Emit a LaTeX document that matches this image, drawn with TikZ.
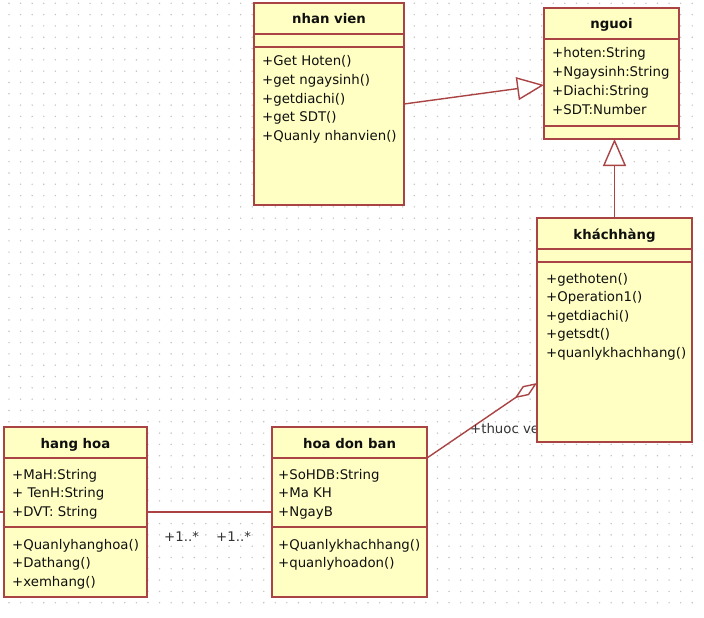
\documentclass[tikz,border=0pt]{standalone}
\usepackage{fontspec}
\setmainfont{DejaVu Sans}
\usetikzlibrary{arrows.meta,calc}
\definecolor{umlred}{RGB}{170,68,68}
\definecolor{umlfill}{RGB}{255,255,196}
\definecolor{umltext}{RGB}{15,15,15}
\definecolor{griddot}{RGB}{195,195,195}
\newcommand\umlmem{\fontsize{13.3}{16}\selectfont}
\newcommand\umltitle{\fontsize{13.3}{16}\selectfont\bfseries}
\tikzset{
  cls/.style={draw=umlred, fill=umlfill, line width=1.8pt, rectangle, anchor=north west, inner sep=0pt, outer sep=0pt},
  ttl/.style={font=\umltitle, text=umltext, anchor=base, inner sep=0pt},
  mem/.style={font=\umlmem, text=umltext, anchor=base west, inner sep=0pt},
  lbl/.style={font=\umlmem, text=umltext!85, anchor=base west, inner sep=0pt},
  divider/.style={draw=umlred, line width=1.8pt},
  conn/.style={draw=umlred, line width=1.4pt},
  gentip/.style={-{Triangle[fill=white, length=27pt, width=23pt]}},
  aggtip/.style={-{Diamond[fill=white, length=27pt, width=11pt]}}
}
\begin{document}
\begin{tikzpicture}[x=1pt,y=-1pt]
\useasboundingbox (0,0) rectangle (704,618);
\fill[white] (0,0) rectangle (704,618);
% dotted grid
\foreach \i in {0,...,59}
  \foreach \j in {0,...,53}
    \fill[griddot] ({9+11.58*\i},{3.3+11.31*\j}) circle (0.8pt);

% class boxes (placed first so connectors can refer to them)
\node[cls, minimum width=150pt, minimum height=202pt] (nv) at (254,3) {};
\node[cls, minimum width=135pt, minimum height=131pt] (ng) at (544,8) {};
\node[cls, minimum width=155pt, minimum height=224pt] (kh) at (537,218) {};
\node[cls, minimum width=143pt, minimum height=170pt] (hh) at (4,427) {};
\node[cls, minimum width=155pt, minimum height=170pt] (hd) at (272,427) {};

% connectors
\coordinate (leftend) at (0,512);
\draw[conn] (hh.west) -- (leftend);
\draw[conn] (hh.east) -- (hd.west);
\draw[conn, gentip] (nv.east) -- ($(ng.west)+(0,11.5)$);
\draw[conn, gentip] (kh.north) -- (kh.north |- ng.south);
\draw[conn, aggtip] ($(hd.north east)+(0,31)$) -- ($(kh.west)+(0,53)$);

% labels
\node[lbl] (l1) at (164,541) {+1..*};
\node[lbl] (l2) at (216,541) {+1..*};
\node[lbl] (l3) at (470,433) {+thuoc ve};

% redraw boxes on top of connectors
\node[cls, minimum width=150pt, minimum height=202pt] (nvb) at (254,3) {};
\node[cls, minimum width=135pt, minimum height=131pt] (ngb) at (544,8) {};
\node[cls, minimum width=155pt, minimum height=224pt] (khb) at (537,218) {};
\node[cls, minimum width=143pt, minimum height=170pt] (hhb) at (4,427) {};
\node[cls, minimum width=155pt, minimum height=170pt] (hdb) at (272,427) {};

% dividers
\draw[divider] (254,34) -- (404,34);
\draw[divider] (254,47) -- (404,47);
\draw[divider] (544,39) -- (679,39);
\draw[divider] (544,126) -- (679,126);
\draw[divider] (537,249) -- (692,249);
\draw[divider] (537,262) -- (692,262);
\draw[divider] (4,458) -- (147,458);
\draw[divider] (4,527) -- (147,527);
\draw[divider] (272,458) -- (427,458);
\draw[divider] (272,527) -- (427,527);

% titles
\node[ttl] (nv-t) at (329,24) {nhan vien};
\node[ttl] (ng-t) at (611.5,29) {nguoi};
\node[ttl] (kh-t) at (614.5,239) {kháchhàng};
\node[ttl] (hh-t) at (75.5,448.5) {hang hoa};
\node[ttl] (hd-t) at (349.5,448.5) {hoa don ban};

% members
\foreach [count=\k] \t/\y in {+Get Hoten()/66, +get ngaysinh()/84.5, +getdiachi()/103, +get SDT()/121.5, +Quanly nhanvien()/140}
  \node[mem] (nv-m\k) at (262,\y) {\t};
\foreach [count=\k] \t/\y in {+hoten:String/58, +Ngaysinh:String/76.7, +Diachi:String/95.4, +SDT:Number/114.1}
  \node[mem] (ng-a\k) at (552,\y) {\t};
\foreach [count=\k] \t/\y in {+gethoten()/283, +Operation1()/301.5, +getdiachi()/320, +getsdt()/338.5, +quanlykhachhang()/357}
  \node[mem] (kh-m\k) at (546,\y) {\t};
\foreach [count=\k] \t/\y in {+MaH:String/479, + TenH:String/497.5, +DVT: String/516}
  \node[mem] (hh-a\k) at (12,\y) {\t};
\foreach [count=\k] \t/\y in {+Quanlyhanghoa()/549, +Dathang()/567.5, +xemhang()/586}
  \node[mem] (hh-m\k) at (12,\y) {\t};
\foreach [count=\k] \t/\y in {+SoHDB:String/479, +Ma KH/497.5, +NgayB/516}
  \node[mem] (hd-a\k) at (278,\y) {\t};
\foreach [count=\k] \t/\y in {+Quanlykhachhang()/549, +quanlyhoadon()/567.5}
  \node[mem] (hd-m\k) at (278,\y) {\t};
\end{tikzpicture}
\end{document}
